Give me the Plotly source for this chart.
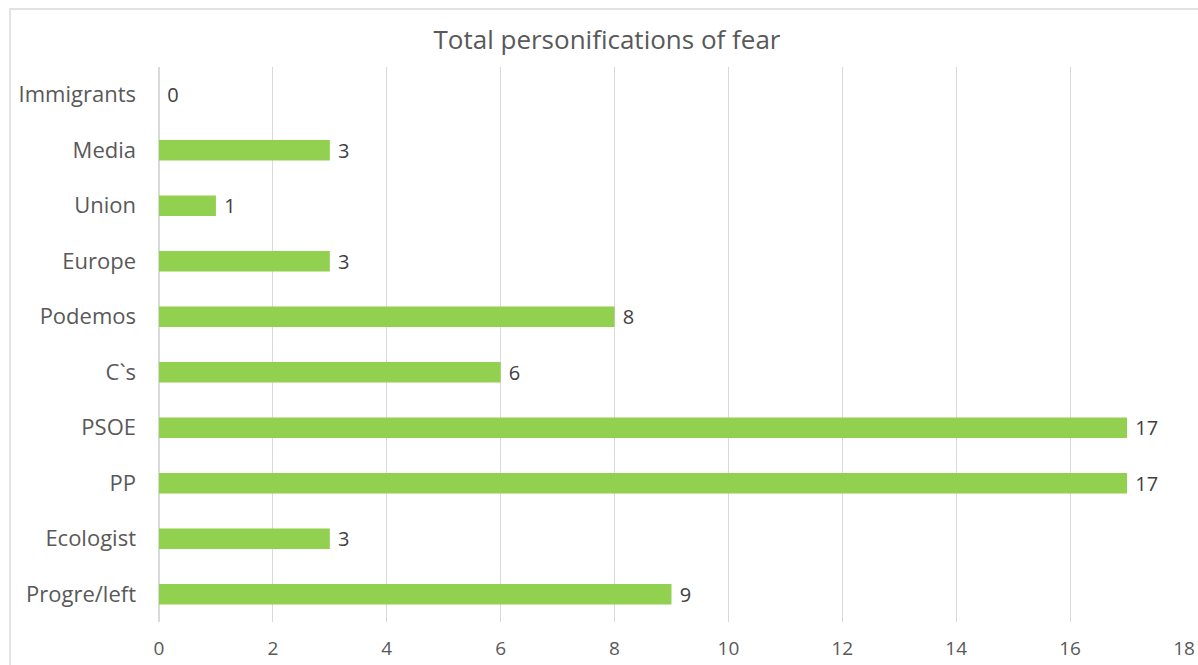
import plotly.graph_objects as go

categories = ["Progre/left", "Ecologist", "PP", "PSOE", "C`s", "Podemos",
              "Europe", "Union", "Media", "Immigrants"]
values = [9, 3, 17, 17, 6, 8, 3, 1, 3, 0]
x_ticks = [0, 2, 4, 6, 8, 10, 12, 14, 16, 18]

FONT = "Open Sans, sans-serif"
GRID = "#d9d9d9"

fig = go.Figure(go.Bar(
    y=categories,
    x=values,
    orientation="h",
    marker=dict(color="#92d050", line=dict(width=0)),
    text=[" " + str(v) for v in values],
    textposition="outside",
    constraintext="none",
    cliponaxis=False,
    textfont=dict(family=FONT, size=20, color="#404040"),
    hoverinfo="skip",
))

fig.update_layout(
    width=1198,
    height=665,
    margin=dict(l=159, r=14, t=67, b=43, autoexpand=False),
    paper_bgcolor="white",
    plot_bgcolor="white",
    bargap=0.63,
    showlegend=False,
    title=dict(
        text="Total personifications of fear",
        x=607 / 1198, xref="container", xanchor="center",
        y=1 - 40 / 665, yanchor="middle",
        font=dict(family=FONT, size=26, color="#595959"),
    ),
    xaxis=dict(
        range=[0, 18],
        tickvals=x_ticks,
        automargin=False,
        showgrid=True,
        gridcolor=GRID,
        gridwidth=1,
        zeroline=True,
        zerolinecolor=GRID,
        showline=False,
        ticks="",
        ticklabelstandoff=13,
        tickfont=dict(family=FONT, size=19, color="#595959"),
    ),
    yaxis=dict(
        automargin=False,
        showgrid=False,
        showline=False,
        ticks="",
        ticklabelstandoff=22,
        tickfont=dict(family=FONT, size=22, color="#595959"),
    ),
    shapes=[dict(
        type="rect", xref="paper", yref="paper",
        x0=(10 - 159) / 1025, x1=(1205 - 159) / 1025,
        y0=(622 - 680) / 555, y1=(622 - 9) / 555,
        line=dict(color="#d9d9d9", width=1.5),
        fillcolor="rgba(0,0,0,0)",
        layer="below",
    )],
)

fig.write_html("out.html")
